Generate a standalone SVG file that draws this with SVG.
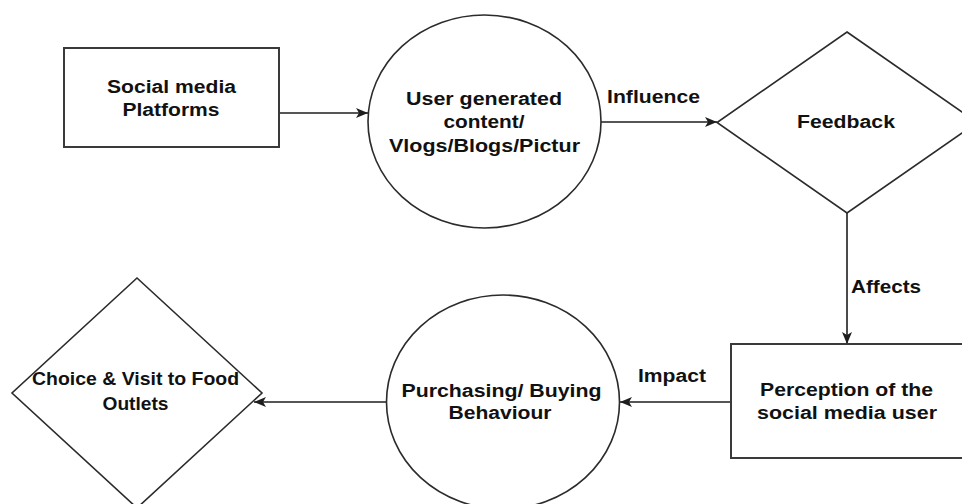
<svg xmlns="http://www.w3.org/2000/svg" width="962" height="504" viewBox="0 0 962 504">
  <style>
    .shape { fill: #ffffff; stroke: #2b2b2b; stroke-width: 1.6; }
    .box { fill: #ffffff; stroke: #3a3a3a; stroke-width: 2; }
    .edge { fill: none; stroke: #1e1e1e; stroke-width: 1.6; }
    .lbl { font-family: "Liberation Sans", Arial, sans-serif; font-size: 18px; font-weight: bold; fill: #111111; }
    .mid { text-anchor: middle; }
  </style>
  <defs>
    <marker id="arrow" viewBox="0 0 12 10" refX="12" refY="5" markerWidth="12" markerHeight="10" markerUnits="userSpaceOnUse" orient="auto">
      <path d="M0,0 L12,5 L0,10 L3,5 z" fill="#1e1e1e"/>
    </marker>
  </defs>

  <rect width="962" height="504" fill="#ffffff"/>

  <!-- connectors -->
  <g id="connectors">
    <line class="edge" x1="279" y1="113" x2="368" y2="113" marker-end="url(#arrow)"/>
    <line class="edge" x1="601" y1="122" x2="717" y2="122" marker-end="url(#arrow)"/>
    <line class="edge" x1="847" y1="213" x2="847" y2="344" marker-end="url(#arrow)"/>
    <line class="edge" x1="731" y1="402" x2="620" y2="402" marker-end="url(#arrow)"/>
    <line class="edge" x1="387" y1="402" x2="254" y2="402" marker-end="url(#arrow)"/>
    <text class="lbl" x="607" y="103" textLength="93" lengthAdjust="spacingAndGlyphs">Influence</text>
    <text class="lbl" x="851" y="293" textLength="70" lengthAdjust="spacingAndGlyphs">Affects</text>
    <text class="lbl" x="638" y="382" textLength="68" lengthAdjust="spacingAndGlyphs">Impact</text>
  </g>

  <!-- nodes -->
  <g id="social-media-platforms">
    <rect class="box" x="64" y="48" width="215" height="99"/>
    <text class="lbl mid" x="171.5" y="93" textLength="129" lengthAdjust="spacingAndGlyphs">Social media</text>
    <text class="lbl mid" x="171" y="116" textLength="97" lengthAdjust="spacingAndGlyphs">Platforms</text>
  </g>

  <g id="user-generated-content">
    <ellipse class="shape" cx="484.5" cy="121.5" rx="116.5" ry="106.5"/>
    <text class="lbl mid" x="484" y="105" textLength="156" lengthAdjust="spacingAndGlyphs">User generated</text>
    <text class="lbl mid" x="484" y="128" textLength="81" lengthAdjust="spacingAndGlyphs">content/</text>
    <text class="lbl mid" x="484.5" y="152" textLength="191" lengthAdjust="spacingAndGlyphs">Vlogs/Blogs/Pictur</text>
  </g>

  <g id="feedback">
    <polygon class="shape" points="847,32 977,122.5 847,213 717,122.5"/>
    <text class="lbl mid" x="846" y="128" textLength="98" lengthAdjust="spacingAndGlyphs">Feedback</text>
  </g>

  <g id="perception">
    <rect class="box" x="731" y="344" width="240" height="114"/>
    <text class="lbl mid" x="846.5" y="396" textLength="173" lengthAdjust="spacingAndGlyphs">Perception of the</text>
    <text class="lbl mid" x="847" y="419" textLength="180" lengthAdjust="spacingAndGlyphs">social media user</text>
  </g>

  <g id="purchasing-behaviour">
    <ellipse class="shape" cx="503" cy="402" rx="116.5" ry="107"/>
    <text class="lbl mid" x="501.5" y="397" textLength="200" lengthAdjust="spacingAndGlyphs">Purchasing/ Buying</text>
    <text class="lbl mid" x="500" y="419" textLength="103" lengthAdjust="spacingAndGlyphs">Behaviour</text>
  </g>

  <g id="choice-visit">
    <polygon class="shape" points="137,278 262,393 137,508 12,393"/>
    <text class="lbl mid" x="135.5" y="385" textLength="207" lengthAdjust="spacingAndGlyphs">Choice &amp; Visit to Food</text>
    <text class="lbl mid" x="135.5" y="410" textLength="66" lengthAdjust="spacingAndGlyphs">Outlets</text>
  </g>
</svg>
